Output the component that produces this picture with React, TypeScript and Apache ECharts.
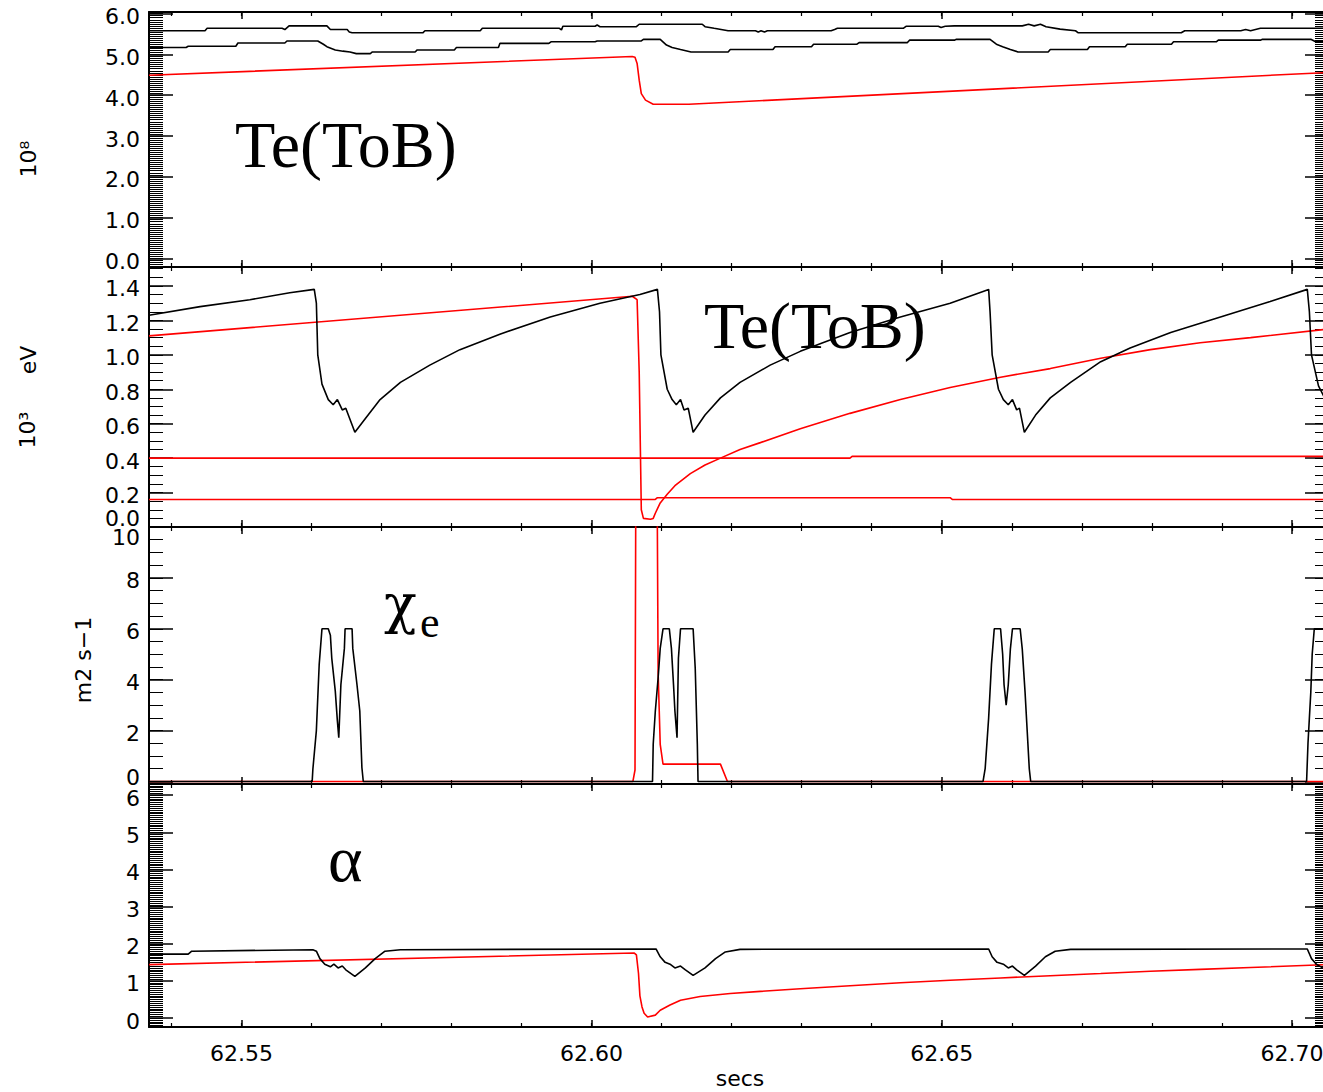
import React, { useEffect, useRef } from "react";
import * as echarts from "echarts";

// ---------------- axes ----------------
const xRange = [62.5368, 62.7053];
const xMajorTicks = [62.55, 62.6, 62.65, 62.7];
const xMinorTicks = [
  62.54, 62.55, 62.56, 62.57, 62.58, 62.59, 62.6, 62.61, 62.62, 62.63, 62.64,
  62.65, 62.66, 62.67, 62.68, 62.69, 62.7,
];

const p1Range = [-0.21, 6.04];
const p1Ticks = [0, 1, 2, 3, 4, 5, 6];
const p2Range = [0, 1.51];
const p2Ticks = [0, 0.2, 0.4, 0.6, 0.8, 1.0, 1.2, 1.4];
const p3Range = [-0.1, 10];
const p3Ticks = [0, 2, 4, 6, 8, 10];
const p4Range = [-0.24, 6.3];
const p4Ticks = [0, 1, 2, 3, 4, 5, 6];

// ---------------- panel 1 (10^8) ----------------
const p1BlackTop = [
  [62.5368, 5.58], [62.5448, 5.58], [62.5451, 5.64], [62.5558, 5.64], [62.5562, 5.61],
  [62.5568, 5.7], [62.5622, 5.7], [62.5627, 5.61], [62.5651, 5.61], [62.5654, 5.55],
  [62.5658, 5.53], [62.5759, 5.53], [62.5762, 5.58], [62.5841, 5.58], [62.5844, 5.64],
  [62.5954, 5.64], [62.5957, 5.6], [62.5959, 5.69], [62.6005, 5.69], [62.6008, 5.72],
  [62.6012, 5.68], [62.6064, 5.68], [62.6068, 5.74], [62.6158, 5.74], [62.6162, 5.68],
  [62.6175, 5.64], [62.6195, 5.58], [62.6234, 5.58], [62.6238, 5.55], [62.6242, 5.58],
  [62.6247, 5.55], [62.6251, 5.58], [62.6342, 5.58], [62.6347, 5.61], [62.6351, 5.64],
  [62.6445, 5.64], [62.6449, 5.69], [62.6495, 5.69], [62.6499, 5.66], [62.6505, 5.69],
  [62.6518, 5.7], [62.6615, 5.7], [62.6624, 5.74], [62.6632, 5.7], [62.6641, 5.74],
  [62.6649, 5.68], [62.6669, 5.62], [62.6691, 5.58], [62.6695, 5.53], [62.6842, 5.53],
  [62.6847, 5.58], [62.6927, 5.58], [62.6934, 5.61], [62.6941, 5.58], [62.6948, 5.61],
  [62.6955, 5.64], [62.7053, 5.64],
];
const p1BlackLow = [
  [62.5368, 5.17], [62.5421, 5.17], [62.5424, 5.2], [62.5492, 5.2], [62.5495, 5.28],
  [62.5562, 5.28], [62.5565, 5.33], [62.5609, 5.33], [62.5617, 5.25], [62.5622, 5.19],
  [62.5634, 5.11], [62.5645, 5.08], [62.5655, 5.06], [62.5664, 5.02], [62.5684, 5.02],
  [62.5687, 5.06], [62.5748, 5.06], [62.5751, 5.11], [62.5804, 5.11], [62.5807, 5.17],
  [62.5867, 5.17], [62.5869, 5.27], [62.5939, 5.27], [62.5942, 5.31], [62.6005, 5.31],
  [62.6008, 5.33], [62.6071, 5.33], [62.6074, 5.37], [62.6098, 5.37], [62.6107, 5.23],
  [62.6115, 5.17], [62.6127, 5.12], [62.6142, 5.06], [62.6195, 5.06], [62.6198, 5.12],
  [62.6259, 5.12], [62.6262, 5.19], [62.6314, 5.19], [62.6317, 5.25], [62.6379, 5.25],
  [62.6382, 5.29], [62.6451, 5.29], [62.6454, 5.35], [62.6518, 5.35], [62.6521, 5.37],
  [62.6569, 5.37], [62.6578, 5.25], [62.6587, 5.19], [62.6598, 5.12], [62.6609, 5.06],
  [62.6652, 5.06], [62.6655, 5.12], [62.6708, 5.12], [62.6711, 5.19], [62.6762, 5.19],
  [62.6765, 5.25], [62.6828, 5.25], [62.6831, 5.31], [62.6892, 5.31], [62.6895, 5.35],
  [62.6955, 5.35], [62.6958, 5.37], [62.7027, 5.37], [62.7034, 5.31], [62.7053, 5.31],
];
const p1Red = [
  [62.5368, 4.49], [62.6058, 4.95], [62.6062, 4.93], [62.6065, 4.78], [62.6068, 4.37],
  [62.6071, 4.04], [62.6077, 3.88], [62.6088, 3.78], [62.6139, 3.78], [62.7053, 4.56],
];

// ---------------- panel 2 (10^3 eV) ----------------
const p2Black = [
  [62.5368, 1.23], [62.5441, 1.28], [62.5512, 1.32], [62.5569, 1.36], [62.5604, 1.38],
  [62.5607, 1.3], [62.5609, 1.0], [62.5615, 0.83], [62.5624, 0.74], [62.5631, 0.71],
  [62.5637, 0.74], [62.5644, 0.68], [62.5649, 0.69], [62.5662, 0.55], [62.5677, 0.63],
  [62.5698, 0.74], [62.5727, 0.84], [62.5769, 0.94], [62.5812, 1.03], [62.5869, 1.12],
  [62.5941, 1.22], [62.6012, 1.3], [62.6069, 1.35], [62.6094, 1.38], [62.6097, 1.25],
  [62.6099, 1.0], [62.6108, 0.8], [62.6115, 0.74], [62.6121, 0.71], [62.6127, 0.74],
  [62.6132, 0.68], [62.6138, 0.69], [62.6145, 0.55], [62.6162, 0.65], [62.6184, 0.75],
  [62.6212, 0.84], [62.6255, 0.94], [62.6298, 1.02], [62.6369, 1.13], [62.6441, 1.22],
  [62.6512, 1.3], [62.6567, 1.38], [62.6569, 1.25], [62.6572, 1.0], [62.6581, 0.8],
  [62.6588, 0.74], [62.6595, 0.71], [62.6601, 0.74], [62.6607, 0.68], [62.6611, 0.69],
  [62.6618, 0.55], [62.6634, 0.65], [62.6655, 0.75], [62.6684, 0.84], [62.6727, 0.96],
  [62.6769, 1.04], [62.6827, 1.13], [62.6898, 1.22], [62.6969, 1.31], [62.7022, 1.38],
  [62.7025, 1.25], [62.7028, 1.0], [62.7038, 0.82], [62.7053, 0.7],
];
const p2RedRamp = [
  [62.5368, 1.11], [62.6058, 1.34], [62.6065, 1.32], [62.6068, 0.9], [62.6071, 0.1],
  [62.6074, 0.05], [62.6084, 0.045], [62.6088, 0.05], [62.6091, 0.08], [62.6098, 0.14],
  [62.6108, 0.19], [62.6119, 0.24], [62.6141, 0.31], [62.6162, 0.36], [62.6184, 0.4],
  [62.6212, 0.45], [62.6241, 0.49], [62.6298, 0.57], [62.6369, 0.66], [62.6441, 0.74],
  [62.6512, 0.81], [62.6584, 0.87], [62.6655, 0.92], [62.6727, 0.98], [62.6798, 1.03],
  [62.6869, 1.07], [62.6941, 1.1], [62.7053, 1.15],
];
const p2RedUpper = [[62.5368, 0.4], [62.6369, 0.4], [62.6372, 0.41], [62.7053, 0.41]];
const p2RedLower = [
  [62.5368, 0.16], [62.6091, 0.16], [62.6094, 0.17], [62.6512, 0.17], [62.6515, 0.16],
  [62.7053, 0.16],
];

// ---------------- panel 3 (chi_e, m2 s-1) ----------------
const p3Black = [
  [62.5368, 0], [62.5601, 0], [62.5602, 0.48], [62.5607, 2.0], [62.5611, 4.58],
  [62.5615, 6.0], [62.5624, 6.0], [62.5627, 5.75], [62.5629, 4.84], [62.5634, 3.55],
  [62.5637, 2.38], [62.5639, 1.72], [62.5642, 3.8], [62.5647, 5.23], [62.5648, 6.0],
  [62.5658, 6.0], [62.5659, 5.23], [62.5665, 3.8], [62.5669, 2.77], [62.5672, 0.55],
  [62.5674, 0], [62.6087, 0], [62.6088, 1.46], [62.6091, 2.76], [62.6095, 4.06],
  [62.6098, 5.23], [62.6102, 6.0], [62.6111, 6.0], [62.6114, 5.23], [62.6117, 3.8],
  [62.6119, 2.76], [62.6122, 1.72], [62.6124, 4.84], [62.6127, 6.0], [62.6145, 6.0],
  [62.6148, 4.45], [62.6151, 1.46], [62.6152, 0], [62.6559, 0], [62.6562, 0.5],
  [62.6567, 2.5], [62.6571, 4.6], [62.6575, 6.0], [62.6584, 6.0], [62.6587, 5.0],
  [62.6589, 3.8], [62.6592, 3.0], [62.6595, 3.8], [62.6598, 5.2], [62.6601, 6.0],
  [62.6612, 6.0], [62.6615, 5.2], [62.6619, 3.5], [62.6622, 2.0], [62.6625, 0.5],
  [62.6627, 0], [62.7021, 0], [62.7023, 1.5], [62.7027, 3.5], [62.7029, 5.0],
  [62.7032, 6.0], [62.7053, 6.0],
];
const p3Red = [
  [62.5368, 0], [62.6059, 0], [62.6062, 0.45], [62.6064, 20], [62.6092, 20],
  [62.6095, 4.3], [62.6098, 1.46], [62.6102, 0.68], [62.6184, 0.68], [62.6194, 0],
  [62.7053, 0],
];

// ---------------- panel 4 (alpha) ----------------
const p4Black = [
  [62.5368, 1.72], [62.5424, 1.72], [62.5429, 1.8], [62.5602, 1.84], [62.5607, 1.8],
  [62.5612, 1.6], [62.5619, 1.45], [62.5627, 1.38], [62.5632, 1.45], [62.5638, 1.35],
  [62.5644, 1.4], [62.5649, 1.3], [62.5662, 1.12], [62.5677, 1.35], [62.5691, 1.6],
  [62.5705, 1.8], [62.5727, 1.84], [62.6092, 1.86], [62.6098, 1.65], [62.6105, 1.5],
  [62.6112, 1.45], [62.6119, 1.35], [62.6127, 1.4], [62.6134, 1.3], [62.6145, 1.15],
  [62.6162, 1.35], [62.6177, 1.6], [62.6191, 1.78], [62.6212, 1.85], [62.6567, 1.86],
  [62.6572, 1.65], [62.6579, 1.5], [62.6588, 1.45], [62.6595, 1.35], [62.6601, 1.4],
  [62.6607, 1.3], [62.6618, 1.15], [62.6634, 1.4], [62.6648, 1.65], [62.6662, 1.8],
  [62.6684, 1.85], [62.7022, 1.86], [62.7028, 1.6], [62.7035, 1.45], [62.7044, 1.35],
  [62.7053, 1.3],
];
const p4Red = [
  [62.5368, 1.44], [62.6061, 1.75], [62.6064, 1.7], [62.6067, 1.2], [62.6069, 0.6],
  [62.6072, 0.3], [62.6075, 0.13], [62.608, 0.03], [62.6091, 0.08], [62.6098, 0.21],
  [62.6112, 0.35], [62.6127, 0.48], [62.6155, 0.58], [62.6198, 0.66], [62.6241, 0.72],
  [62.6298, 0.79], [62.6369, 0.87], [62.6441, 0.95], [62.6512, 1.02], [62.6584, 1.08],
  [62.6655, 1.14], [62.6727, 1.2], [62.6798, 1.26], [62.6869, 1.31], [62.6941, 1.36],
  [62.7053, 1.44],
];

// ---------------- texts ----------------
const xTitle = "secs";
const p1Unit = "10⁸";
const p2UnitA = "eV";
const p2UnitB = "10³";
const p3Unit = "m2 s−1";
const annTe = "Te(ToB)";
const annChi = "χ";
const annChiSub = "e";
const annAlpha = "α";

// ---------------- helpers ----------------
function tickSteps(lo: number, hi: number, step: number): number[] {
  const out: number[] = [];
  const n = Math.round((hi - lo) / step);
  for (let k = 0; k <= n; k++) out.push(+(lo + k * step).toFixed(4));
  return out;
}

const BLACK = "#000000";
const RED = "#ff0000";
const AXF = "DejaVu Sans";
const SERIF = "Liberation Serif";
const GRID_LEFT = 149;
const GRID_WIDTH = 1180;

function buildOption() {
  const labelRich = (extra: number[]) => ({
    fontSize: 22,
    fontFamily: AXF,
    color: BLACK,
    padding: extra,
  });
  const panels = [
    { top: 12, height: 255, range: p1Range, major: p1Ticks, minor: tickSteps(-0.2, 6.0, 0.05), digits: 1, shiftUp: null as number | null, shiftDown: null as number | null },
    { top: 267, height: 260, range: p2Range, major: p2Ticks, minor: tickSteps(0, 1.5, 0.05), digits: 1, shiftUp: 0, shiftDown: null },
    { top: 527, height: 257, range: p3Range, major: p3Ticks, minor: tickSteps(0, 10, 0.5), digits: 0, shiftUp: 0, shiftDown: 10 },
    { top: 784, height: 243, range: p4Range, major: p4Ticks, minor: tickSteps(-0.2, 6.3, 0.05), digits: 0, shiftUp: null, shiftDown: null },
  ];

  const grid: any[] = [];
  const xAxis: any[] = [];
  const yAxis: any[] = [];

  panels.forEach((p, i) => {
    grid.push({
      left: GRID_LEFT,
      top: p.top,
      width: GRID_WIDTH,
      height: p.height,
      containLabel: false,
      outerBoundsMode: "none",
    });
    const xBase = {
      gridIndex: i,
      type: "value",
      min: xRange[0],
      max: xRange[1],
      splitLine: { show: false },
      axisLine: { show: true, onZero: false, lineStyle: { color: BLACK, width: 2 } },
    };
    (["bottom", "top"] as const).forEach((pos) => {
      xAxis.push({
        ...xBase,
        position: pos,
        axisTick: { show: true, inside: true, length: 7, customValues: xMajorTicks, lineStyle: { color: BLACK, width: 1.5 } },
        axisLabel: {
          show: pos === "bottom" && i === 3,
          customValues: xMajorTicks,
          formatter: (v: number) => v.toFixed(2),
          margin: 15,
          color: BLACK,
          fontSize: 22,
          fontFamily: AXF,
        },
      });
      xAxis.push({
        ...xBase,
        position: pos,
        axisLine: { show: false, onZero: false },
        axisTick: { show: true, inside: true, length: 4, customValues: xMinorTicks, lineStyle: { color: BLACK, width: 1.2 } },
        axisLabel: { show: false },
      });
    });
    const yBase = {
      gridIndex: i,
      type: "value",
      min: p.range[0],
      max: p.range[1],
      splitLine: { show: false },
      axisLine: { show: true, onZero: false, lineStyle: { color: BLACK, width: 2 } },
    };
    (["left", "right"] as const).forEach((pos) => {
      yAxis.push({
        ...yBase,
        position: pos,
        axisTick: { show: true, inside: true, length: 24, customValues: p.major, lineStyle: { color: BLACK, width: 1.5 } },
        axisLabel: {
          show: pos === "left",
          customValues: p.major,
          formatter: (v: number) => {
            const s = v.toFixed(p.digits);
            if (p.shiftUp !== null && v === p.shiftUp) return `{up|${s}}`;
            if (p.shiftDown !== null && v === p.shiftDown) return `{dn|${s}}`;
            return s;
          },
          rich: {
            up: labelRich(i === 1 ? [0, 0, 24, 0] : [0, 0, 13, 0]),
            dn: labelRich([14, 0, 0, 0]),
          },
          margin: 9,
          padding: [6, 0, 0, 0],
          color: BLACK,
          fontSize: 22,
          fontFamily: AXF,
        },
      });
      yAxis.push({
        ...yBase,
        position: pos,
        axisLine: { show: false, onZero: false },
        axisTick: { show: true, inside: true, length: 14, customValues: p.minor, lineStyle: { color: BLACK, width: 1 } },
        axisLabel: { show: false },
      });
    });
  });

  const defs: [number, number[][], string][] = [
    [0, p1Red, RED],
    [0, p1BlackTop, BLACK],
    [0, p1BlackLow, BLACK],
    [1, p2RedUpper, RED],
    [1, p2RedLower, RED],
    [1, p2RedRamp, RED],
    [1, p2Black, BLACK],
    [2, p3Red, RED],
    [2, p3Black, BLACK],
    [3, p4Red, RED],
    [3, p4Black, BLACK],
  ];
  const series = defs.map(([panel, data, color]) => ({
    type: "line",
    xAxisIndex: panel * 4,
    yAxisIndex: panel * 4,
    data,
    showSymbol: false,
    symbol: "none",
    clip: true,
    silent: true,
    lineStyle: { color, width: 1.6 },
    itemStyle: { color },
  }));

  const txt = (text: string, x: number, y: number, size: number, family: string, align: string, rotation = 0) => ({
    type: "text",
    x,
    y,
    rotation,
    silent: true,
    style: {
      text,
      fill: BLACK,
      fontSize: size,
      fontFamily: family,
      align,
      textAlign: align,
      verticalAlign: "middle",
      textVerticalAlign: "middle",
    },
  });

  const graphic = [
    txt(annTe, 235, 144, 66, SERIF, "left"),
    txt(annTe, 704, 325, 66, SERIF, "left"),
    txt(annChi, 384, 604, 54, "DejaVu Serif", "left"),
    txt(annChiSub, 420, 622, 44, SERIF, "left"),
    txt(annAlpha, 328, 858, 66, SERIF, "left"),
    txt(p1Unit, 28, 159, 22, AXF, "center", Math.PI / 2),
    txt(p2UnitA, 28, 360, 22, AXF, "center", Math.PI / 2),
    txt(p2UnitB, 27, 430, 22, AXF, "center", Math.PI / 2),
    txt(p3Unit, 83, 660, 22, AXF, "center", Math.PI / 2),
    txt(xTitle, 740, 1078, 22, AXF, "center"),
  ];

  return {
    animation: false,
    backgroundColor: "#ffffff",
    grid,
    xAxis,
    yAxis,
    series,
    graphic,
  };
}

export default function App() {
  const ref = useRef<HTMLDivElement>(null);
  useEffect(() => {
    if (!ref.current) return;
    const chart = echarts.init(ref.current, null, { renderer: "svg" });
    chart.setOption(buildOption() as any);
    return () => chart.dispose();
  }, []);
  return (
    <div
      ref={ref}
      style={{ position: "absolute", left: 0, top: 0, width: 1323, height: 1092, background: "#fff" }}
    />
  );
}
